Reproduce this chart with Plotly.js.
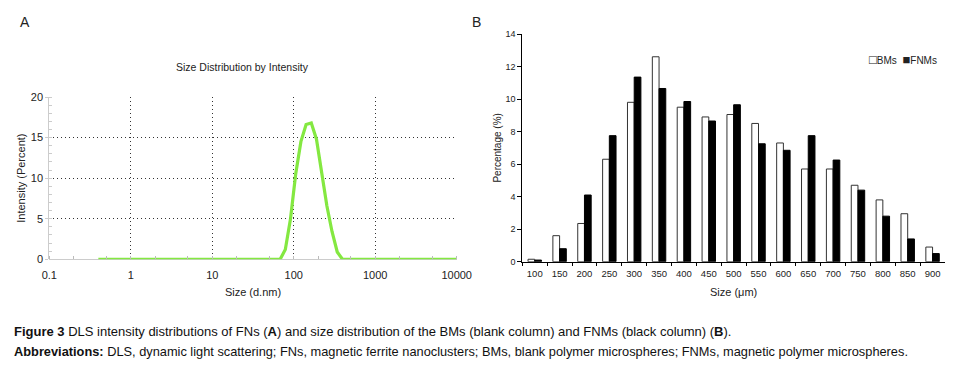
<!DOCTYPE html>
<html><head><meta charset="utf-8">
<script src="https://cdn.plot.ly/plotly-3.0.1.min.js"></script>
<style>html,body{margin:0;padding:0;background:#fff}#c{width:971px;height:374px}</style>
</head><body><div id="c"></div>
<script>
// Panel A: DLS intensity distribution
const dlsSize = [0.4, 1, 10, 50.75, 58.77, 68.06, 78.82, 91.28, 105.7, 122.4, 141.8, 164.2, 190.1, 220.2, 255.0, 295.3, 342.0, 396.1, 458.7, 1000, 10000];
const dlsIntensity = [0, 0, 0, 0, 0, 0, 1.2, 5.0, 10.5, 14.5, 16.6, 16.8, 14.8, 10.8, 6.6, 3.4, 0.9, 0, 0, 0, 0];
const aTickVals = [0.1, 1, 10, 100, 1000, 10000];
const aTickText = ['0.1', '1', '10', '100', '1000', '10000'];

// Panel B: size distribution
const sizeCats = ['100','150','200','250','300','350','400','450','500','550','600','650','700','750','800','850','900'];
const bmsPct = [0.15, 1.6, 2.35, 6.3, 9.8, 12.6, 9.5, 8.9, 9.05, 8.5, 7.3, 5.7, 5.7, 4.7, 3.8, 2.95, 0.9];
const fnmsPct = [0.1, 0.8, 4.1, 7.75, 11.35, 10.65, 9.85, 8.65, 9.65, 7.25, 6.85, 7.75, 6.25, 4.4, 2.8, 1.4, 0.5];

const W = 971, H = 374;
const px = v => v / W, py = v => 1 - v / H;
const F = 'Liberation Sans, Arial, sans-serif';
const CAP = 'Liberation Sans Narrow, Arial Narrow, sans-serif';

const traces = [
  {x: dlsSize, y: dlsIntensity, type: 'scatter', mode: 'lines', xaxis: 'x', yaxis: 'y',
   line: {color: '#84e841', width: 3.2}, showlegend: false, hoverinfo: 'skip'},
  {x: sizeCats, y: bmsPct, type: 'bar', name: 'BMs', xaxis: 'x2', yaxis: 'y2',
   marker: {color: '#ffffff', line: {color: '#333', width: 1}}},
  {x: sizeCats, y: fnmsPct, type: 'bar', name: 'FNMs', xaxis: 'x2', yaxis: 'y2',
   marker: {color: '#000000', line: {color: '#000', width: 1}}}
];

const sq = s => '<span style="font-size:13px">' + s + '</span>';

const layout = {
  width: W, height: H,
  margin: {l: 0, r: 0, t: 0, b: 0},
  paper_bgcolor: '#fff', plot_bgcolor: '#fff',
  font: {family: F, color: '#222'},
  barmode: 'group', bargap: 0.46, bargroupgap: 0,
  showlegend: false,
  xaxis: {type: 'log', domain: [px(49.3), px(456.7)], anchor: 'y', range: [-1, 4],
    tickvals: aTickVals, ticktext: aTickText, tickfont: {size: 11, color: '#222'},
    showgrid: true, gridcolor: '#333', griddash: '1px,3px', gridwidth: 1,
    showline: false, zeroline: false, ticks: '', ticklen: 0, ticklabelstandoff: 8,
    minor: {ticks: 'inside', ticklen: 3, tickcolor: '#bbb', showgrid: false},
    title: {text: 'Size (d.nm)', font: {size: 11, color: '#222'}, standoff: 8}},
  yaxis: {domain: [py(259.3), py(97)], anchor: 'x', range: [0, 20],
    tickvals: [0, 5, 10, 15, 20], tickfont: {size: 11, color: '#222'},
    showgrid: true, gridcolor: '#333', griddash: '1px,3px', gridwidth: 1,
    showline: true, linecolor: '#ccc', linewidth: 1, mirror: false,
    zeroline: true, zerolinecolor: '#ccc', zerolinewidth: 1,
    ticks: 'outside', ticklen: 3, tickcolor: '#ccc',
    minor: {dtick: 1, ticks: 'inside', ticklen: 3, tickcolor: '#ccc', showgrid: false},
    title: {text: 'Intensity (Percent)', font: {size: 11, color: '#222'}, standoff: 2}},
  xaxis2: {type: 'category', domain: [px(522.3), px(945)], anchor: 'y2', range: [-0.5, 16.5],
    tickfont: {size: 9.5, color: '#222'}, tickangle: 0, showgrid: false, showline: true, linecolor: '#000', linewidth: 1,
    ticks: 'outside', ticklen: 3, tickcolor: '#000', tickson: 'boundaries', ticklabelstandoff: 3,
    title: {text: 'Size (\u03bcm)', font: {size: 11, color: '#222'}, standoff: 10}},
  yaxis2: {domain: [py(261.7), py(34)], anchor: 'x2', range: [0, 14], dtick: 2,
    tickfont: {size: 9, color: '#222'}, showgrid: false, showline: true, linecolor: '#000', linewidth: 1,
    ticks: 'outside', ticklen: 4, tickcolor: '#000', zeroline: false,
    title: {text: 'Percentage (%)', font: {size: 10, color: '#222'}, standoff: 1}},
  annotations: [
    {text: 'A', x: px(25), y: py(22), xref: 'paper', yref: 'paper', showarrow: false,
     font: {size: 14, color: '#222'}, xanchor: 'center', yanchor: 'middle'},
    {text: 'B', x: px(476), y: py(22), xref: 'paper', yref: 'paper', showarrow: false,
     font: {size: 14, color: '#222'}, xanchor: 'center', yanchor: 'middle'},
    {text: 'Size Distribution by Intensity', x: px(243), y: py(67), xref: 'paper', yref: 'paper',
     showarrow: false, font: {size: 10.5, color: '#222'}, xanchor: 'center', yanchor: 'middle'},
    {text: sq('\u25a1') + traces[1].name + '  ' + sq('\u25a0') + traces[2].name, x: px(939), y: py(60), xref: 'paper', yref: 'paper',
     showarrow: false, font: {size: 10, color: '#222'}, xanchor: 'right', yanchor: 'middle'},
    {text: '<b>Figure 3</b> DLS intensity distributions of FNs (<b>A</b>) and size distribution of the BMs (blank column) and FNMs (black column) (<b>B</b>).',
     x: px(12), y: py(331), xref: 'paper', yref: 'paper', showarrow: false, xanchor: 'left', yanchor: 'middle',
     font: {size: 13, family: CAP, color: '#111'}},
    {text: '<b>Abbreviations:</b> DLS, dynamic light scattering; FNs, magnetic ferrite nanoclusters; BMs, blank polymer microspheres; FNMs, magnetic polymer microspheres.',
     x: px(12), y: py(351), xref: 'paper', yref: 'paper', showarrow: false, xanchor: 'left', yanchor: 'middle',
     font: {size: 12.8, family: CAP, color: '#111'}}
  ]
};

Plotly.newPlot('c', traces, layout, {staticPlot: true, displayModeBar: false});
</script></body></html>
